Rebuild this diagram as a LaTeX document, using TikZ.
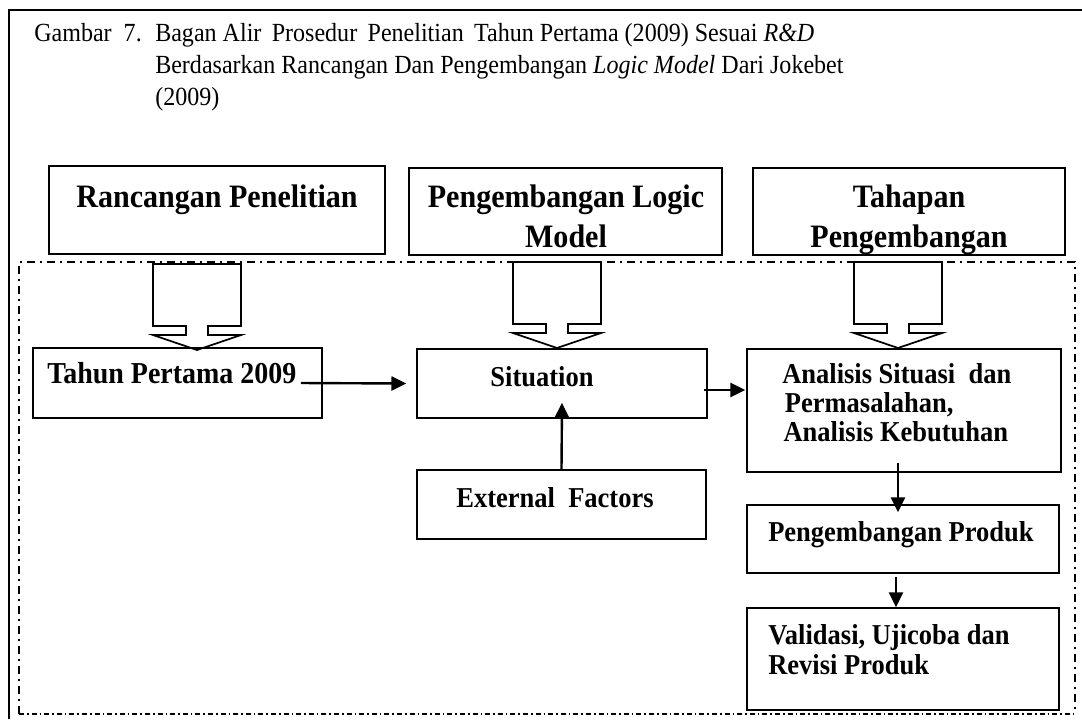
\documentclass[tikz,border=0pt]{standalone}
\usepackage{fontspec}
\setmainfont{Liberation Serif}[FakeStretch=0.92]
\usetikzlibrary{arrows.meta,fit,calc}

\tikzset{
  box/.style={draw=black, line width=1.3pt, inner sep=0pt},
  frameline/.style={line width=1.4pt},
  dashdot/.style={line width=1.2pt, dash pattern=on 6pt off 3.75pt on 1.5pt off 3.75pt},
  dashdotfine/.style={line width=1.2pt, dash pattern=on 3.75pt off 2.25pt on 1.2pt off 2.25pt},
  arr/.style={line width=1.8pt, -{Triangle[length=11pt,width=10.5pt]}},
  captxt/.style={inner sep=0pt, align=left, font=\fontsize{19.6}{24}\selectfont},
  headtxt/.style={inner sep=0pt, align=center, font=\bfseries\fontsize{24.5}{30}\selectfont},
  bodytxt/.style={inner sep=0pt, align=left, font=\bfseries\fontsize{21.6}{21.4}\selectfont},
  downcallout/.pic={
    \draw[line width=1.3pt, line join=miter]
      (-44,0) -- (44,0) -- (44,62) -- (11,62) -- (11,71) -- (44,71) -- (0,86)
      -- (-44,71) -- (-11,71) -- (-11,62) -- (-44,62) -- cycle;
  }
}

\begin{document}
\begin{tikzpicture}[x=0.75pt, y=-0.75pt]
\useasboundingbox (0,0) rectangle (1082,719);

% outer frame (open to the right and bottom)
\coordinate (fbl) at (9,719);
\coordinate (ftl) at (9,10);
\coordinate (ftr) at (1082,10);
\draw[frameline] (fbl) -- (ftl) -- (ftr);

% caption (multi-line nodes are anchored at the baseline of their last line)
\node[captxt, anchor=base west] (capnum) at (34,41) {Gambar\ \ 7.};
\node[captxt, anchor=base west] (captext) at (155,105)
  {Bagan Alir\ \,Prosedur\ \,Penelitian\ \,Tahun Pertama (2009) Sesuai \textit{R\&D}\\
   Berdasarkan Rancangan Dan Pengembangan \textit{Logic Model} Dari Jokebet\\
   (2009)};

% column headings
\node[box, fit={(49,166) (385,254)}] (rancangan) {};
\node[box, fit={(409,168) (722,255)}] (logic) {};
\node[box, fit={(753,168) (1065,255)}] (tahapan) {};
\node[headtxt, anchor=base] (trancangan) at (217,207) {Rancangan Penelitian};
\node[headtxt, anchor=base] (tlogic) at (566,247) {Pengembangan Logic\\Model};
\node[headtxt, anchor=base] (ttahapan) at (909,247) {Tahapan\\Pengembangan};

% dash-dotted frame around the flow
\coordinate (dtl) at (19,262);
\coordinate (dtr) at (1075,262);
\coordinate (dbl) at (19,714);
\coordinate (dbr) at (1075,714);
\draw[dashdot] (dbl) -- (dtl) -- (dtr) -- (dbr);
\draw[dashdotfine] (dbl) -- (dbr);

% down-arrow callouts under the headings
\pic at (197,264) {downcallout};
\pic at (557,262) {downcallout};
\pic at (898,262) {downcallout};

% flow boxes
\node[box, fit={(33,348) (322,418)}] (tahun) {};
\node[box, fit={(417,349) (707,418)}] (situation) {};
\node[box, fit={(417,470) (706,539)}] (external) {};
\node[box, fit={(747,349) (1061,472)}] (analisis) {};
\node[box, fit={(747,505) (1059,573)}] (produk) {};
\node[box, fit={(747,608) (1059,710)}] (validasi) {};

\node[bodytxt, anchor=base west, font=\bfseries\fontsize{22.8}{24}\selectfont] (ttahun) at (47,383) {Tahun Pertama 2009};
\node[bodytxt, anchor=base] (tsituation) at (542,386) {Situation};
\node[bodytxt, anchor=base] (texternal) at (555,507) {External\ \ Factors};
\node[bodytxt, anchor=base west] (tanalisis) at (782,441)
  {Analisis Situasi\ \ dan\\\hspace{2pt}Permasalahan,\\\hspace{1pt}Analisis Kebutuhan};
\node[bodytxt, anchor=base west] (tproduk) at (768,541) {Pengembangan Produk};
\node[bodytxt, anchor=base west, font=\bfseries\fontsize{21.6}{22.5}\selectfont] (tvalidasi) at (768,674)
  {Validasi, Ujicoba dan\\Revisi Produk};

% connectors
\draw[arr] ($(tahun.east)+(-22,0)$) -- ($(situation.west)+(-10,0)$);
\draw[arr] ($(situation.east)+(-4,6.5)$) -- ($(analisis.west |- situation.east)+(-1,6.5)$);
\draw[arr] (external.north) -- ($(situation.south)+(0,-16)$);
\draw[arr] ($(analisis.south)+(-6,-10)$) -- ($(produk.north)+(-5,8)$);
\draw[arr] ($(produk.south)+(-7,3)$) -- ($(validasi.north)+(-7,0)$);
\end{tikzpicture}
\end{document}
